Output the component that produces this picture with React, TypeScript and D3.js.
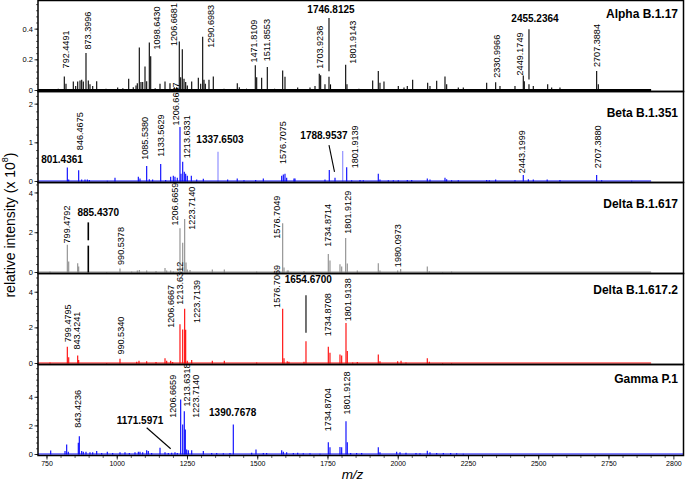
import React from "react";
import * as d3 from "d3";

// ---------- data (m/z, relative intensity x10^8) ----------
const xTickValues = [750, 1000, 1250, 1500, 1750, 2000, 2250, 2500, 2750, 2981];
const xTickLabels = ["750", "1000", "1250", "1500", "1750", "2000", "2250", "2500", "2750", "2800"];

const panelTitles = ["Alpha B.1.17", "Beta B.1.351", "Delta B.1.617", "Delta B.1.617.2", "Gamma P.1"];
const panelColors = ["#000000", "#0000ff", "#8c8c8c", "#ff0000", "#0000ff"];
const panelYMax = [0.59, 2.34, 4.55, 5.08, 6.33];
const panelYTicks = [[0, 0.2, 0.4], [0, 1, 2], [0, 2, 4], [0, 2, 4], [0, 2, 4]];

const alphaPeaks: [number, number][] = [
  [760, 0.01], [790, 0.012], [811.6, 0.092], [817.6, 0.044], [843.6, 0.059], [852.2, 0.03], [859.3, 0.059],
  [867.5, 0.066], [873.5, 0.07], [879.2, 0.059], [888.8, 0.245], [897, 0.066], [903, 0.04], [912.7, 0.03],
  [926.9, 0.061], [960, 0.012], [1001.6, 0.02], [1020, 0.015], [1040.8, 0.077], [1057, 0.022], [1066.8, 0.033],
  [1071.4, 0.048], [1078.5, 0.28], [1084.5, 0.055], [1090.6, 0.055], [1098.8, 0.157], [1104.8, 0.06],
  [1114.1, 0.313], [1119.1, 0.223], [1135, 0.015], [1152.2, 0.044], [1170, 0.059], [1187.7, 0.048], [1203, 0.022],
  [1211.6, 0.022], [1220.8, 0.319], [1225.8, 0.087], [1231.5, 0.269], [1237.6, 0.077], [1243.6, 0.055],
  [1249.3, 0.033], [1265, 0.059], [1288.5, 0.083], [1297, 0.044], [1304.1, 0.35], [1308.7, 0.07], [1313.4, 0.044],
  [1326.5, 0.07], [1341.8, 0.092], [1380, 0.012], [1427.2, 0.048], [1434.4, 0.022], [1460, 0.012],
  [1491.3, 0.164], [1496.3, 0.087], [1514, 0.083], [1534, 0.153], [1560, 0.012], [1588.8, 0.13], [1597, 0.09],
  [1642.2, 0.02], [1686, 0.02], [1703.8, 0.03], [1719, 0.11], [1724, 0.1], [1739.3, 0.04], [1753.6, 0.09],
  [1759, 0.04], [1813, 0.168], [1817.6, 0.04], [1860, 0.012], [1909.1, 0.066], [1929, 0.127], [1935, 0.05],
  [1949.3, 0.058], [2000.2, 0.03], [2020.5, 0.02], [2032.2, 0.03], [2051.4, 0.07], [2104.8, 0.05], [2113, 0.03],
  [2136.9, 0.063], [2166.4, 0.092], [2172.4, 0.04], [2213.7, 0.02], [2231.5, 0.02], [2314.8, 0.05],
  [2346.8, 0.053], [2362.1, 0.03], [2415.5, 0.03], [2445, 0.098], [2448.6, 0.06], [2465.3, 0.04], [2480.6, 0.03],
  [2531.9, 0.04], [2546.1, 0.02], [2575.6, 0.02], [2694.2, 0.01], [2706.2, 0.127], [2712, 0.04],
];

const betaPeaks: [number, number][] = [
  [822.3, 0.36], [827.3, 0.05], [862.8, 0.29], [873.5, 0.05], [885.3, 0.05], [893.5, 0.05], [900.6, 0.04],
  [964.6, 0.02], [992, 0.1], [1075, 0.12], [1081, 0.08], [1104.8, 0.4], [1114, 0.06], [1126, 0.05],
  [1154.7, 0.45], [1172.4, 0.04], [1190.2, 0.12], [1199.5, 0.15], [1205.5, 0.12], [1213.7, 0.1],
  [1223.3, 1.41], [1226.9, 0.2], [1233, 0.51], [1238.6, 0.25], [1243.6, 0.2], [1249.3, 0.15], [1263.6, 0.15],
  [1282.8, 0.05], [1306.3, 0.07], [1393, 0.05], [1427, 0.08], [1451, 0.03], [1492.7, 0.04], [1519.8, 0.08],
  [1585.3, 0.15], [1591, 0.18], [1597, 0.2], [1603, 0.1], [1629, 0.08], [1632.6, 0.08], [1739.3, 0.05],
  [1754.6, 0.3], [1775, 0.1], [1816.6, 0.37], [1834.3, 0.03], [1864, 0.04], [1875.6, 0.03], [1929, 0.2],
  [1935, 0.05], [1964.7, 0.03], [1982.4, 0.03], [2000.2, 0.03], [2032.2, 0.04], [2048, 0.04], [2103.4, 0.08],
  [2113, 0.05], [2166.4, 0.1], [2172.4, 0.06], [2190, 0.03], [2213.7, 0.03], [2314.8, 0.04], [2324, 0.03],
  [2346.8, 0.05], [2415.5, 0.03], [2445, 0.17], [2463, 0.06], [2480.6, 0.05], [2530, 0.05], [2575.6, 0.04],
  [2706.2, 0.17], [2724, 0.03], [2830.8, 0.02],
];
const betaHighlightPeaks: [number, number][] = [[1358.6, 0.77], [1802.3, 0.79]];

const deltaPeaks: [number, number][] = [
  [760.7, 0.05], [822.3, 1.4], [827.3, 0.55], [859.3, 0.46], [862.8, 0.3], [962.5, 0.03], [1009.8, 0.2],
  [1051.4, 0.05], [1071.4, 0.1], [1078.5, 0.12], [1104.8, 0.1], [1138, 0.08], [1170, 0.22], [1176, 0.1],
  [1190.2, 0.1], [1199.5, 0.05], [1223.3, 2.23], [1233, 1.49], [1240, 2.69], [1244.7, 0.5], [1249.3, 0.15],
  [1259, 0.12], [1338.3, 0.15], [1381, 0.15], [1496.3, 0.05], [1588.8, 2.48], [1593.5, 0.25], [1605, 0.1],
  [1608.7, 0.1], [1664.6, 0.08], [1697.7, 0.05], [1751.1, 0.93], [1757.1, 0.6], [1792.7, 0.42], [1798.8, 0.3],
  [1813, 1.73], [1818.7, 0.45], [1854.3, 0.1], [1929, 0.46], [1935, 0.1], [1998, 0.1], [2008.7, 0.18],
  [2103.4, 0.3], [2110.6, 0.06], [2158, 0.03], [2190, 0.05],
];

const delta2Peaks: [number, number][] = [
  [760.7, 0.05], [822.3, 0.94], [827.3, 0.35], [859.3, 0.45], [862.8, 0.2], [962.5, 0.03], [1009.8, 0.26],
  [1069.3, 0.1], [1077.4, 0.15], [1104.8, 0.12], [1138, 0.08], [1170, 0.3], [1176, 0.15], [1190.2, 0.15],
  [1197.3, 0.08], [1223.3, 2.21], [1233, 1.91], [1240, 3.07], [1243.6, 1.9], [1249.3, 0.15], [1265, 0.2],
  [1338.3, 0.15], [1381, 0.15], [1496.3, 0.05], [1588.8, 3.07], [1593.5, 0.3], [1605, 0.12], [1611, 0.1],
  [1664.6, 0.1], [1671.7, 1.25], [1751.1, 0.94], [1757.1, 0.6], [1792.7, 0.5], [1798.8, 0.45], [1814.1, 2.28],
  [1818.7, 0.7], [1838, 0.05], [1854.3, 0.08], [1929, 0.5], [1935, 0.12], [1998, 0.12], [2010, 0.15],
  [2027.6, 0.05], [2103.4, 0.3], [2110.6, 0.1], [2158, 0.03], [2190, 0.03],
];

const gammaPeaks: [number, number][] = [
  [763.2, 0.28], [814.1, 0.25], [820.1, 0.7], [825.8, 0.2], [861.4, 0.82], [865, 1.28], [873.5, 0.25],
  [879.2, 0.2], [888.8, 0.2], [903, 0.15], [912.7, 0.15], [926.9, 0.25], [944.7, 0.1], [964.6, 0.2],
  [983.8, 0.1], [1009.8, 0.15], [1027.6, 0.15], [1043, 0.1], [1063.2, 0.15], [1075, 0.2], [1081, 0.2],
  [1090.6, 0.15], [1104.8, 0.3], [1110.5, 0.25], [1122.6, 0.1], [1152.2, 0.47], [1170, 0.15], [1181.7, 0.1],
  [1193.8, 0.12], [1205.5, 0.15], [1213.7, 0.1], [1225.8, 3.85], [1233, 2.1], [1238.6, 3.03], [1242.2, 1.75],
  [1247.2, 0.35], [1253, 0.3], [1265, 0.3], [1306.3, 0.25], [1336.2, 0.1], [1354, 0.1], [1377.5, 0.08],
  [1401.3, 0.1], [1413, 2.1], [1478.5, 0.12], [1493.8, 0.35], [1519.8, 0.1], [1531.8, 0.1], [1585.3, 0.3],
  [1591, 0.2], [1603, 0.15], [1626.6, 0.1], [1642.2, 0.12], [1662, 0.08], [1686, 0.08], [1721.6, 0.05],
  [1751.1, 0.86], [1757.1, 0.5], [1792.7, 0.52], [1798.8, 0.5], [1814.1, 2.33], [1818.7, 0.85], [1830.8, 0.1],
  [1852, 0.1], [1870, 0.1], [1929, 0.5], [1935, 0.15], [1994.5, 0.2], [2006.3, 0.15], [2027.6, 0.12],
  [2063.2, 0.1], [2077.4, 0.08], [2103.4, 0.27], [2113, 0.15], [2136.9, 0.1], [2160.4, 0.1], [2186.7, 0.1],
  [2208, 0.08], [2231.5, 0.05],
];

// rotated labels: [text, m/z anchor, intensity anchor]
const alphaLabels: [string, number, number][] = [
  ["792.4491", 817.6, 0.144], ["873.3996", 897, 0.267], ["1098.6430", 1140.4, 0.267], ["1206.6681", 1202, 0.29],
  ["1290.6983", 1332.6, 0.278], ["1471.8109", 1486.7, 0.182], ["1511.8553", 1531.9, 0.19], ["1703.9236", 1721.6, 0.142],
  ["1801.9143", 1840, 0.175], ["2330.9966", 2350.4, 0.083], ["2449.1749", 2433.3, 0.098], ["2707.3884", 2706.2, 0.153],
];
const betaLabels: [string, number, number][] = [
  ["846.4675", 867.5, 0.81], ["1085.5380", 1098.8, 0.56], ["1133.5629", 1155.7, 0.64], ["1206.6667", 1208, 1.45],
  ["1213.6331", 1247.2, 0.6], ["1576.7075", 1588.8, 0.45], ["1801.9139", 1846.1, 0.34], ["2443.1999", 2439.3, 0.215],
  ["2707.3880", 2712, 0.34],
];
const deltaLabels: [string, number, number][] = [
  ["799.4792", 820.1, 1.46], ["990.5378", 1012.3, 0.38], ["1206.6659", 1205.5, 2.36], ["1223.7140", 1265, 2.15],
  ["1576.7049", 1567.5, 1.7], ["1734.8714", 1751.1, 1.29], ["1801.9129", 1822.3, 1.95], ["1980.0973", 2000.2, 0.27],
];
const delta2Labels: [string, number, number][] = [
  ["799.4795", 825.8, 1.19], ["843.4241", 857.9, 0.78], ["990.5340", 1012.3, 0.5], ["1206.6667", 1190.2, 2.0],
  ["1213.6312", 1223.3, 3.3], ["1223.7139", 1282.8, 2.28], ["1576.7069", 1569.6, 3.12], ["1734.8708", 1751.1, 1.53],
  ["1801.9138", 1822.3, 2.37],
];
const gammaLabels: [string, number, number][] = [
  ["843.4236", 861.4, 1.87], ["1206.6659", 1199.5, 2.57], ["1213.6318", 1247.2, 3.36], ["1223.7140", 1279.2, 2.57],
  ["1734.8704", 1751.1, 1.63], ["1801.9128", 1818.7, 2.8],
];

// bold horizontal labels: [text, m/z centre, intensity baseline]
const alphaBold: [string, number, number][] = [["1746.8125", 1760.7, 0.507], ["2455.2364", 2486.7, 0.448]];
const betaBold: [string, number, number][] = [["801.4361", 803.4, 0.487], ["1337.6503", 1365.7, 0.985], ["1788.9537", 1735.8, 1.11]];
const deltaBold: [string, number, number][] = [["885.4370", 932.6, 2.84]];
const delta2Bold: [string, number, number][] = [["1654.6700", 1679.9, 4.52]];
const gammaBold: [string, number, number][] = [["1171.5971", 1081, 2.1], ["1390.7678", 1410.9, 2.68]];

// leader lines: [mz1, int1, mz2, int2]
const alphaLeaders: [number, number, number, number][] = [[1753.6, 0.472, 1753.6, 0.125], [2465.3, 0.4, 2465.3, 0.072]];
const betaLeaders: [number, number, number, number][] = [[1753.6, 0.94, 1773.2, 0.25]];
const deltaLeaders: [number, number, number, number][] = [[897, 2.52, 897, 1.62], [897, 1.35, 897, 0]];
const delta2Leaders: [number, number, number, number][] = [[1671.7, 3.83, 1671.7, 1.72]];
const gammaLeaders: [number, number, number, number][] = [[1104.8, 1.87, 1190.2, 0.4]];

// ---------- layout ----------
const W = 685;
const H = 482;
const left = 38;
const right = 684;
const panelTop = [0, 91, 182, 273, 364];
const panelH = 91;
const titleDy = [18, 25.7, 26.3, 21, 19.3];
const FONT = "'Liberation Sans', Arial, Helvetica, sans-serif";

const series = [alphaPeaks, betaPeaks, deltaPeaks, delta2Peaks, gammaPeaks];
const labels = [alphaLabels, betaLabels, deltaLabels, delta2Labels, gammaLabels];
const bolds = [alphaBold, betaBold, deltaBold, delta2Bold, gammaBold];
const leaders = [alphaLeaders, betaLeaders, deltaLeaders, delta2Leaders, gammaLeaders];

export default function App() {
  const x = d3.scaleLinear().domain([718, 3017]).range([left, right]);
  const xMinor = d3.range(750, 3000, 50);

  return (
    <svg width={W} height={H} style={{ position: "absolute", left: 0, top: 0, background: "#fff" }} fontFamily={FONT}>
      <rect x={0} y={0} width={W} height={H} fill="#fff" />
      {panelTitles.map((title, i) => {
        const top = panelTop[i];
        const y = d3.scaleLinear().domain([0, panelYMax[i]]).range([top + 90.5, top]);
        const color = panelColors[i];
        const minorStep = panelYTicks[i][1] / 5;
        const minor = d3.range(0, panelYMax[i], minorStep);
        return (
          <g key={title}>
            {/* peaks */}
            {series[i].map(([mz, v], k) => (
              <line key={k} x1={x(mz)} x2={x(mz)} y1={y(0)} y2={y(v)} stroke={color} strokeWidth={1.1} />
            ))}
            {i === 1 &&
              betaHighlightPeaks.map(([mz, v], k) => (
                <line key={"h" + k} x1={x(mz)} x2={x(mz)} y1={y(0)} y2={y(v)} stroke="#9a9aff" strokeWidth={1.3} />
              ))}
            {/* baseline */}
            <line x1={left} x2={i === 4 ? right : x(2900)} y1={y(0) - 0.5} y2={y(0) - 0.5} stroke={color} strokeWidth={i === 0 ? 2 : 1} />
            {/* leader lines */}
            {leaders[i].map(([m1, v1, m2, v2], k) => (
              <line key={"l" + k} x1={x(m1)} x2={x(m2)} y1={y(v1)} y2={y(v2)} stroke="#000" strokeWidth={i === 2 ? 1.6 : 1.1} />
            ))}
            {/* rotated labels */}
            {labels[i].map(([t, mz, v]) => (
              <text
                key={t + mz}
                transform={`translate(${x(mz)},${y(v)}) rotate(-90)`}
                textAnchor="start"
                dominantBaseline="central"
                fontSize={9.1}
                fill="#000"
              >
                {t}
              </text>
            ))}
            {/* bold labels */}
            {bolds[i].map(([t, mz, v]) => (
              <text key={"b" + t} x={x(mz)} y={y(v)} textAnchor="middle" fontSize={10} fontWeight="bold" fill="#000">
                {t}
              </text>
            ))}
            {/* title */}
            <text x={678} y={top + titleDy[i]} textAnchor="end" fontSize={12} fontWeight="bold" fill="#000">
              {title}
            </text>
            {/* frame */}
            <rect x={left} y={top + 0.5} width={right - left - 0.5} height={panelH} fill="none" stroke="#000" strokeWidth={1.5} />
            {/* y axis ticks */}
            {minor.map((v, k) => (
              <line key={"m" + k} x1={left - 2} x2={left} y1={y(v)} y2={y(v)} stroke="#000" strokeWidth={0.6} />
            ))}
            {panelYTicks[i].map((v) => (
              <g key={"t" + v}>
                <line x1={left - 3.5} x2={left} y1={y(v)} y2={y(v)} stroke="#000" strokeWidth={0.8} />
                <text x={left - 5} y={y(v)} dy="0.35em" textAnchor="end" fontSize={7.5} fill="#000">
                  {v}
                </text>
              </g>
            ))}
          </g>
        );
      })}
      {/* x axis */}
      {xMinor.map((v) => (
        <line key={"xm" + v} x1={x(v)} x2={x(v)} y1={456} y2={458} stroke="#000" strokeWidth={0.6} />
      ))}
      {xTickValues.map((v, k) => (
        <g key={"xt" + v}>
          <line x1={x(v)} x2={x(v)} y1={456} y2={459.5} stroke="#000" strokeWidth={0.8} />
          <text x={x(v)} y={466} textAnchor="middle" fontSize={7} fill="#000">
            {xTickLabels[k]}
          </text>
        </g>
      ))}
      <text x={352.5} y={479} textAnchor="middle" fontSize={13.5} fontStyle="italic" fill="#000">
        m/z
      </text>
      <text transform="translate(10,225) rotate(-90)" textAnchor="middle" dominantBaseline="central" fontSize={14} fill="#000">
        relative intensity (x 10
        <tspan fontSize={9} dy={-5}>8</tspan>
        <tspan dy={5}>)</tspan>
      </text>
    </svg>
  );
}
